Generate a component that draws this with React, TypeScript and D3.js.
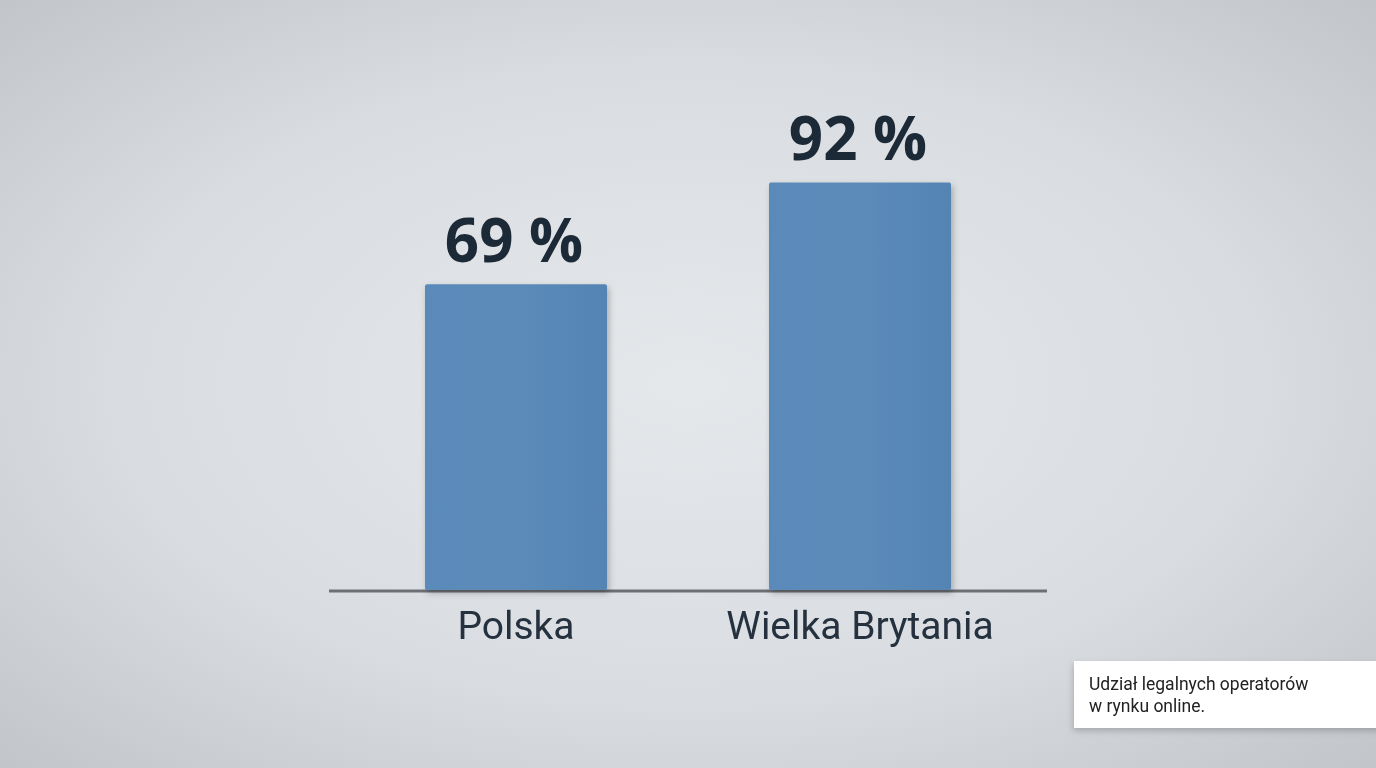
import React from "react";
import * as d3 from "d3";

const categories = ["Polska", "Wielka Brytania"];
const values = [69, 92];
const valueLabels = ["69 %", "92 %"];
const noteLines = ["Udział legalnych operatorów", "w rynku online."];

const W = 1376;
const H = 768;

export default function App() {
  const baseline = 590;
  const x = d3.scaleBand<string>().domain(categories).range([344, 1032]).paddingInner(0.9).paddingOuter(0.45);
  const bw = 182;
  const cx = (c: string) => (x(c) as number) + x.bandwidth() / 2;
  const y = d3.scaleLinear().domain([0, 100]).range([baseline, baseline - 443]);

  return (
    <svg width={W} height={H} style={{ position: "fixed", left: 0, top: 0, display: "block" }}>
      <defs>
        <radialGradient id="bg" cx="0.5" cy="0.5" r="0.75">
          <stop offset="0" stopColor="#e5e8eb" />
          <stop offset="0.55" stopColor="#d9dde1" />
          <stop offset="1" stopColor="#bec2c7" />
        </radialGradient>
        <linearGradient id="bar" x1="0" x2="1" y1="0" y2="0">
          <stop offset="0" stopColor="#5a8aba" />
          <stop offset="0.5" stopColor="#5c8bb9" />
          <stop offset="1" stopColor="#5484b3" />
        </linearGradient>
        <filter id="sh" x="-20%" y="-20%" width="140%" height="140%">
          <feDropShadow dx="2" dy="3" stdDeviation="3" floodColor="#000" floodOpacity="0.25" />
        </filter>
        <filter id="sh2" x="-20%" y="-40%" width="140%" height="180%">
          <feDropShadow dx="-1" dy="3" stdDeviation="3" floodColor="#000" floodOpacity="0.2" />
        </filter>
      </defs>
      <rect x={0} y={0} width={W} height={H} fill="url(#bg)" />
      <line x1={329} x2={1047} y1={baseline + 1} y2={baseline + 1} stroke="#6d7074" strokeWidth={3} />
      {categories.map((c, i) => (
        <g key={c}>
          <rect
            x={cx(c) - bw / 2}
            y={y(values[i])}
            width={bw}
            height={baseline - y(values[i])}
            rx={2}
            fill="url(#bar)"
            filter="url(#sh)"
          />
          <text
            x={cx(c) - 2}
            y={y(values[i]) - 22}
            textAnchor="middle"
            fontFamily="'Open Sans', 'Noto Sans', sans-serif"
            fontWeight={700}
            fontSize={60}
            fill="#1c2937"
          >
            {valueLabels[i]}
          </text>
          <text
            x={cx(c)}
            y={639}
            textAnchor="middle"
            fontFamily="Roboto, 'Noto Sans', sans-serif"
            fontSize={39}
            fill="#25313e"
          >
            {c}
          </text>
        </g>
      ))}
      <rect x={1074} y={661} width={310} height={67} fill="#ffffff" filter="url(#sh2)" />
      {noteLines.map((t, i) => (
        <text key={t} x={1089} y={690 + i * 22} fontFamily="Roboto, 'Noto Sans', sans-serif" fontSize={17.5} fill="#222">
          {t}
        </text>
      ))}
    </svg>
  );
}
